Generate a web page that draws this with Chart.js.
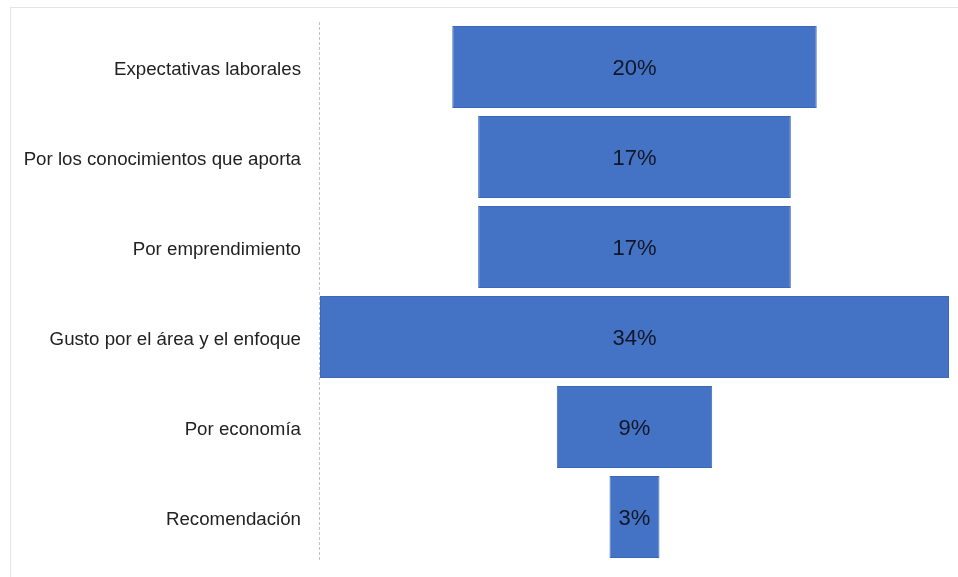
<!DOCTYPE html>
<html>
<head>
<meta charset="utf-8">
<script src="https://cdn.jsdelivr.net/npm/chart.js"></script>
<style>
    body { margin: 0; background: #fff; }
    #wrap { position: relative; width: 958px; height: 577px; overflow: hidden; }
    #frame { position: absolute; left: 10px; top: 7px; width: 960px; height: 590px; border: 1px solid #e4e4e4; }
    #chart { position: absolute; left: 0; top: 0; }
</style>
</head>
<body>
<div id="wrap">
    <div id="frame"></div>
    <canvas id="chart" width="958" height="577"></canvas>
</div>
<script>
    // funnel data, top to bottom
    const categories = [
        "Expectativas laborales",
        "Por los conocimientos que aporta",
        "Por emprendimiento",
        "Gusto por el área y el enfoque",
        "Por economía",
        "Recomendación"
    ];
    // bar widths (percent)
    const values = [19.7, 16.9, 16.9, 34, 8.4, 2.7];
    const valueLabels = ["20%", "17%", "17%", "34%", "9%", "3%"];

    // centred floating bars make the funnel shape
    const maxValue = Math.max(...values);
    const spans = values.map(v => [-v / 2, v / 2]);

    // dashed vertical line at the left of the plot
    const axisLine = {
        id: 'axisLine',
        beforeDatasetsDraw(chart) {
            const { ctx, chartArea } = chart;
            ctx.save();
            ctx.strokeStyle = '#c2c2c2';
            ctx.lineWidth = 1;
            ctx.setLineDash([3, 2]);
            ctx.beginPath();
            ctx.moveTo(chartArea.left - 0.5, chartArea.top);
            ctx.lineTo(chartArea.left - 0.5, chartArea.bottom);
            ctx.stroke();
            ctx.restore();
        }
    };

    // draw the percentage in the middle of each bar
    const barLabels = {
        id: 'barLabels',
        afterDatasetsDraw(chart) {
            const ctx = chart.ctx;
            const meta = chart.getDatasetMeta(0);
            ctx.save();
            ctx.font = '22px "Liberation Sans", Arial, sans-serif';
            ctx.fillStyle = '#111726';
            ctx.textAlign = 'center';
            ctx.textBaseline = 'middle';
            meta.data.forEach((bar, i) => {
                ctx.fillText(valueLabels[i], (bar.x + bar.base) / 2, bar.y + 2);
            });
            ctx.restore();
        }
    };

    new Chart(document.getElementById('chart').getContext('2d'), {
        type: 'bar',
        data: {
            labels: categories,
            datasets: [{
                data: spans,
                backgroundColor: '#4472C4',
                borderColor: '#3d68b8',
                borderWidth: 1,
                borderSkipped: false,
                barPercentage: 0.91,
                categoryPercentage: 1
            }]
        },
        options: {
            indexAxis: 'y',
            responsive: false,
            animation: false,
            layout: { autoPadding: false, padding: { left: 10, right: 9, top: 22, bottom: 15 } },
            plugins: {
                legend: { display: false },
                tooltip: { enabled: false }
            },
            scales: {
                x: {
                    display: false,
                    min: -maxValue / 2,
                    max: maxValue / 2
                },
                y: {
                    grid: { display: false, drawTicks: false },
                    border: { display: false },
                    ticks: {
                        padding: 19,
                        labelOffset: 3,
                        color: '#222222',
                        font: { family: '"Liberation Sans", Arial, sans-serif', size: 18.7 }
                    },
                    afterFit(scale) {
                        scale.width = 310;
                        scale.paddingTop = 0;
                        scale.paddingBottom = 0;
                    }
                }
            }
        },
        plugins: [axisLine, barLabels]
    });
</script>
</body>
</html>
